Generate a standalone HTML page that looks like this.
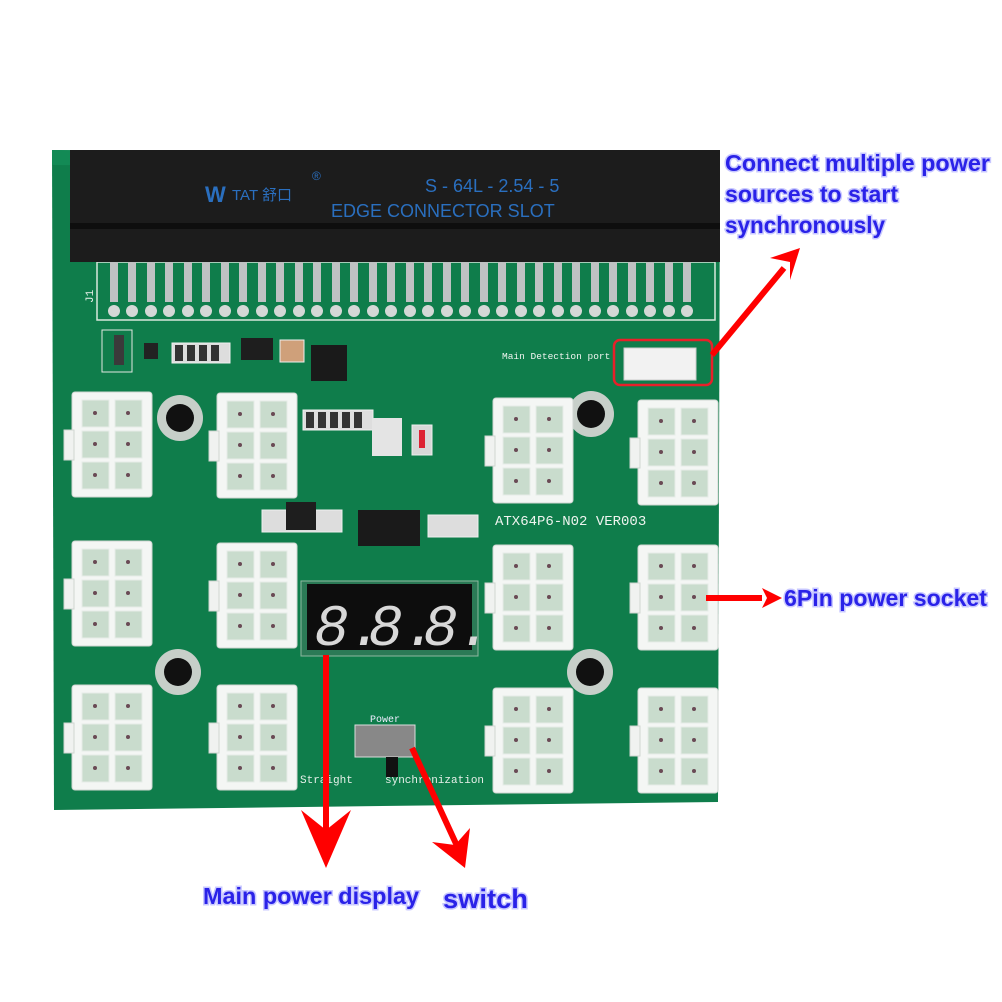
<!DOCTYPE html>
<html><head><meta charset="utf-8"><style>
html,body{margin:0;padding:0;background:#fff;width:1002px;height:1002px;overflow:hidden}
svg{display:block}
.lbl{font-family:"Liberation Sans",sans-serif;font-weight:bold;fill:#2a22e8;stroke:#c8c8ff;stroke-width:3;paint-order:stroke}
.silk{font-family:"Liberation Mono",monospace;fill:#e8f0ea;font-size:11px}
</style></head><body>
<svg width="1002" height="1002" viewBox="0 0 1002 1002" xmlns="http://www.w3.org/2000/svg">
<defs>
<g id="c6">
  <rect x="0" y="0" width="80" height="105" rx="3" fill="#f4f6f4" stroke="#d0d6d2"/>
  <rect x="-8" y="38" width="10" height="30" fill="#f0f2f0" stroke="#cfd5d1"/>
  <g fill="#c9dccd" stroke="#e6ece8">
    <rect x="10" y="8" width="27" height="27"/><rect x="43" y="8" width="27" height="27"/>
    <rect x="10" y="39" width="27" height="27"/><rect x="43" y="39" width="27" height="27"/>
    <rect x="10" y="70" width="27" height="27"/><rect x="43" y="70" width="27" height="27"/>
  </g>
  <g fill="#6a4a55">
    <circle cx="23" cy="21" r="2"/><circle cx="56" cy="21" r="2"/>
    <circle cx="23" cy="52" r="2"/><circle cx="56" cy="52" r="2"/>
    <circle cx="23" cy="83" r="2"/><circle cx="56" cy="83" r="2"/>
  </g>
</g>
<g id="hole"><circle r="23" fill="#c7cfc9"/><circle r="14" fill="#111"/></g>
</defs>

<!-- board -->
<polygon points="52,150 720,155 718,802 54,810" fill="#0f7d4b"/>
<polygon points="52,150 720,155 718,170 52,165" fill="#138a55"/>
<!-- silkscreen frame -->
<rect x="97" y="262" width="618" height="58" fill="none" stroke="#d8e8dc" stroke-width="1.5"/>
<text x="0" y="0" class="silk" transform="translate(93,303) rotate(-90)">J1</text>

<!-- edge connector -->
<rect x="70" y="150" width="650" height="112" fill="#1c1c1c"/>
<rect x="70" y="223" width="650" height="6" fill="#0e0e0e"/>
<text x="205" y="202" font-family="Liberation Sans,sans-serif" font-weight="bold" font-size="22" fill="#2a6fbf">W</text>
<text x="232" y="200" font-family="Liberation Sans,'Noto Sans CJK SC',sans-serif" font-size="15" fill="#2a6fbf">TAT 舒口</text>
<text x="312" y="180" font-family="Liberation Sans,sans-serif" font-size="12" fill="#2a6fbf">®</text>
<text x="425" y="192" font-family="Liberation Sans,sans-serif" font-size="18" fill="#2a6fbf">S - 64L - 2.54 - 5</text>
<text x="331" y="217" font-family="Liberation Sans,sans-serif" font-size="18" fill="#2a6fbf">EDGE CONNECTOR SLOT</text>
<!-- pins -->
<g fill="#b9bcbd">
<script></script>
</g>
<g id="pins"></g>

<!-- components -->
<rect x="102" y="330" width="30" height="42" fill="none" stroke="#e0e8e2"/>
<rect x="114" y="335" width="10" height="30" fill="#3a3a3a"/>
<rect x="144" y="343" width="14" height="16" fill="#222"/>
<g fill="#ddd" stroke="#eee"><rect x="172" y="343" width="58" height="20"/></g>
<g fill="#333"><rect x="175" y="345" width="8" height="16"/><rect x="187" y="345" width="8" height="16"/><rect x="199" y="345" width="8" height="16"/><rect x="211" y="345" width="8" height="16"/></g>
<rect x="241" y="338" width="32" height="22" fill="#1e1e1e"/>
<rect x="280" y="340" width="24" height="22" fill="#cfa07a" stroke="#eee"/>
<rect x="311" y="345" width="36" height="36" fill="#1a1a1a"/>
<rect x="303" y="410" width="70" height="20" fill="#ddd" stroke="#eee"/>
<g fill="#333"><rect x="306" y="412" width="8" height="16"/><rect x="318" y="412" width="8" height="16"/><rect x="330" y="412" width="8" height="16"/><rect x="342" y="412" width="8" height="16"/><rect x="354" y="412" width="8" height="16"/></g>
<rect x="372" y="418" width="30" height="38" fill="#e4e4e4"/>
<rect x="412" y="425" width="20" height="30" fill="#d8d8d8" stroke="#eee"/>
<rect x="419" y="430" width="6" height="18" fill="#d23"/>
<rect x="262" y="510" width="80" height="22" fill="#ddd" stroke="#eee"/>
<rect x="286" y="502" width="30" height="28" fill="#1e1e1e"/>
<rect x="358" y="510" width="62" height="36" fill="#1a1a1a"/>
<rect x="428" y="515" width="50" height="22" fill="#ddd" stroke="#eee"/>
<text x="495" y="525" font-family="Liberation Mono,monospace" font-size="14" fill="#eef4ef">ATX64P6-N02 VER003</text>
<text x="502" y="359" font-family="Liberation Mono,monospace" font-size="9.5" fill="#eef4ef">Main Detection port</text>
<rect x="624" y="348" width="72" height="32" fill="#f2f2f2" stroke="#ccc"/>

<!-- holes -->
<use href="#hole" x="180" y="418"/>
<use href="#hole" x="591" y="414"/>
<use href="#hole" x="178" y="672"/>
<use href="#hole" x="590" y="672"/>

<!-- connectors -->
<use href="#c6" x="72" y="392"/>
<use href="#c6" x="72" y="541"/>
<use href="#c6" x="72" y="685"/>
<use href="#c6" x="217" y="393"/>
<use href="#c6" x="217" y="543"/>
<use href="#c6" x="217" y="685"/>
<use href="#c6" x="493" y="398"/>
<use href="#c6" x="493" y="545"/>
<use href="#c6" x="493" y="688"/>
<use href="#c6" x="638" y="400"/>
<use href="#c6" x="638" y="545"/>
<use href="#c6" x="638" y="688"/>

<!-- display -->
<rect x="301" y="581" width="177" height="75" fill="#2b7a56" stroke="#8fb8a0"/>
<rect x="307" y="584" width="165" height="66" fill="#0d0d0d"/>
<g font-family="Liberation Mono,monospace" font-size="58" fill="#d8d8d8" font-style="italic">
<text x="314" y="645">8.</text><text x="368" y="645">8.</text><text x="423" y="645">8.</text>
</g>

<!-- switch -->
<text x="370" y="722" font-family="Liberation Mono,monospace" font-size="10" fill="#eef">Power</text>
<rect x="355" y="725" width="60" height="32" fill="#888" stroke="#ddd"/>
<rect x="386" y="757" width="12" height="20" fill="#111"/>
<text x="300" y="783" class="silk">Straight</text>
<text x="385" y="783" class="silk">synchronization</text>

<!-- red annotation -->
<rect x="614" y="340" width="98" height="45" rx="6" fill="none" stroke="#e8202a" stroke-width="2.5"/>
<g stroke="#f00" stroke-width="6" fill="none">
<line x1="712" y1="355" x2="784" y2="268"/>
<line x1="706" y1="598" x2="762" y2="598"/>
<line x1="326" y1="655" x2="326" y2="840"/>
<line x1="412" y1="748" x2="458" y2="848"/>
</g>
<g fill="#f00">
<polygon points="800,248 770,258 790,262 790,280"/>
<polygon points="782,598 762,588 767,598 762,608"/>
<polygon points="326,868 301,810 326,830 351,810"/>
<polygon points="465,868 432,842 455,845 470,828"/>
</g>

<!-- labels -->
<g class="lbl" font-size="23">
<text x="725" y="171" textLength="265" lengthAdjust="spacingAndGlyphs">Connect multiple power</text>
<text x="725" y="202" textLength="173" lengthAdjust="spacingAndGlyphs">sources to start</text>
<text x="725" y="233" textLength="160" lengthAdjust="spacingAndGlyphs">synchronously</text>
<text x="784" y="606" textLength="203" lengthAdjust="spacingAndGlyphs">6Pin power socket</text>
<text x="203" y="904" textLength="216" lengthAdjust="spacingAndGlyphs">Main power display</text>
</g>
<text x="443" y="908" class="lbl" font-size="27" textLength="85" lengthAdjust="spacingAndGlyphs">switch</text>

<!-- pins drawn statically -->
<g fill="#bfc2c3">
<rect x="110" y="262" width="8" height="40"/><rect x="128" y="262" width="8" height="40"/><rect x="147" y="262" width="8" height="40"/><rect x="165" y="262" width="8" height="40"/><rect x="184" y="262" width="8" height="40"/><rect x="202" y="262" width="8" height="40"/><rect x="221" y="262" width="8" height="40"/><rect x="239" y="262" width="8" height="40"/><rect x="258" y="262" width="8" height="40"/><rect x="276" y="262" width="8" height="40"/><rect x="295" y="262" width="8" height="40"/><rect x="313" y="262" width="8" height="40"/><rect x="332" y="262" width="8" height="40"/><rect x="350" y="262" width="8" height="40"/><rect x="369" y="262" width="8" height="40"/><rect x="387" y="262" width="8" height="40"/><rect x="406" y="262" width="8" height="40"/><rect x="424" y="262" width="8" height="40"/><rect x="443" y="262" width="8" height="40"/><rect x="461" y="262" width="8" height="40"/><rect x="480" y="262" width="8" height="40"/><rect x="498" y="262" width="8" height="40"/><rect x="517" y="262" width="8" height="40"/><rect x="535" y="262" width="8" height="40"/><rect x="554" y="262" width="8" height="40"/><rect x="572" y="262" width="8" height="40"/><rect x="591" y="262" width="8" height="40"/><rect x="609" y="262" width="8" height="40"/><rect x="628" y="262" width="8" height="40"/><rect x="646" y="262" width="8" height="40"/><rect x="665" y="262" width="8" height="40"/><rect x="683" y="262" width="8" height="40"/>
</g>
<g fill="#d4d8d6">
<circle cx="114" cy="311" r="6"/><circle cx="132" cy="311" r="6"/><circle cx="151" cy="311" r="6"/><circle cx="169" cy="311" r="6"/><circle cx="188" cy="311" r="6"/><circle cx="206" cy="311" r="6"/><circle cx="225" cy="311" r="6"/><circle cx="243" cy="311" r="6"/><circle cx="262" cy="311" r="6"/><circle cx="280" cy="311" r="6"/><circle cx="299" cy="311" r="6"/><circle cx="317" cy="311" r="6"/><circle cx="336" cy="311" r="6"/><circle cx="354" cy="311" r="6"/><circle cx="373" cy="311" r="6"/><circle cx="391" cy="311" r="6"/><circle cx="410" cy="311" r="6"/><circle cx="428" cy="311" r="6"/><circle cx="447" cy="311" r="6"/><circle cx="465" cy="311" r="6"/><circle cx="484" cy="311" r="6"/><circle cx="502" cy="311" r="6"/><circle cx="521" cy="311" r="6"/><circle cx="539" cy="311" r="6"/><circle cx="558" cy="311" r="6"/><circle cx="576" cy="311" r="6"/><circle cx="595" cy="311" r="6"/><circle cx="613" cy="311" r="6"/><circle cx="632" cy="311" r="6"/><circle cx="650" cy="311" r="6"/><circle cx="669" cy="311" r="6"/><circle cx="687" cy="311" r="6"/>
</g>
</svg>
</body></html>
